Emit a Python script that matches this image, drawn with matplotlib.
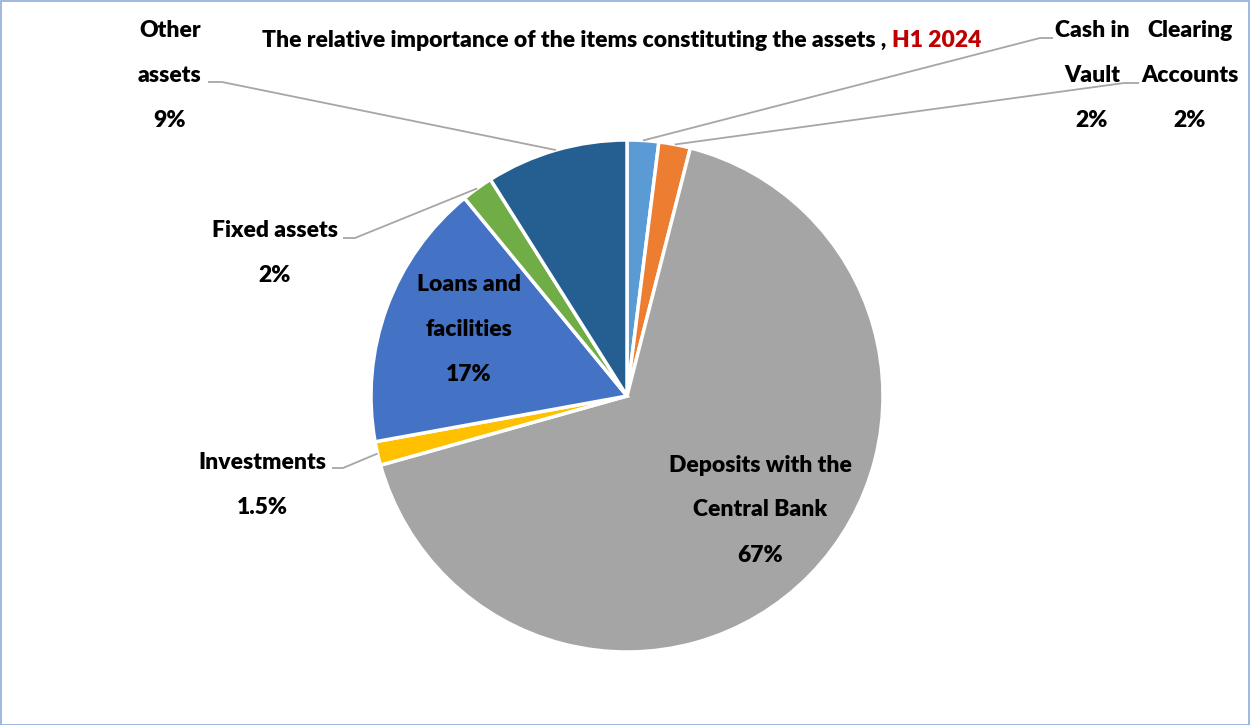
import matplotlib.pyplot as plt
import matplotlib.patches as patches
import numpy as np

# asset composition, H1 2024 (percent)
items = ['Cash in Vault', 'Clearing Accounts', 'Deposits with the Central Bank',
         'Investments', 'Loans and facilities', 'Fixed assets', 'Other assets']
shares = [2, 2, 67, 1.5, 17, 2, 9]
share_labels = ['2%', '2%', '67%', '1.5%', '17%', '2%', '9%']
colors = ['#5B9BD5', '#ED7D31', '#A5A5A5', '#FFC000', '#4472C4', '#70AD47', '#255E91']

W, H = 1250, 725
plt.rcParams['font.family'] = ['Lato', 'DejaVu Sans']

fig = plt.figure(figsize=(W / 100, H / 100), dpi=100)
ax = fig.add_axes([0, 0, 1, 1])

# work in pixel units, y measured from the top
def py(y):
    return H - y

cx, cy, R = 627, py(396), 256
wedges, _ = ax.pie(shares, colors=colors, startangle=90, counterclock=False,
                   center=(cx, cy), radius=R,
                   wedgeprops=dict(edgecolor='white', linewidth=2.5))
ax.set_xlim(0, W)
ax.set_ylim(0, H)
ax.set_aspect('equal')
ax.axis('off')

def edge_point(w):
    a = np.deg2rad((w.theta1 + w.theta2) / 2)
    return cx + R * np.cos(a), cy + R * np.sin(a)

def label(lines, x, y0, step=45, size=16.5):
    for k, s in enumerate(lines):
        ax.text(x, py(y0 + k * step), s, ha='center', va='center',
                fontsize=size, fontweight='heavy', color='black')

def leader(w, elbow, end):
    x0, y0 = edge_point(w)
    ax.plot([x0, elbow[0], end[0]], [y0, py(elbow[1]), py(end[1])],
            color='#A6A6A6', lw=1.3, solid_capstyle='butt')

# outside labels with leader lines
label(['Other', 'assets', share_labels[6]], 170, 30)
leader(wedges[6], (222, 82), (208, 82))

label(['Cash in', 'Vault', share_labels[0]], 1092, 30)
leader(wedges[0], (1040, 38), (1053, 38))

label(['Clearing', 'Accounts', share_labels[1]], 1190, 30)
leader(wedges[1], (1124, 83), (1139, 83))

label(['Fixed assets', share_labels[5]], 275, 230)
leader(wedges[5], (355, 238), (343, 238))

label(['Investments', share_labels[3]], 262, 462)
leader(wedges[3], (343, 468), (332, 468))

# labels inside the big slices
label(['Loans and', 'facilities', share_labels[4]], 469, 284)
label(['Deposits with the', 'Central Bank', share_labels[2]], 760, 465)

# title in two colours
t = ax.text(262, py(40), 'The relative importance of the items constituting the assets , ',
            ha='left', va='center', fontsize=16.5, fontweight='heavy', color='black')
ax.annotate('H1 2024', xy=(1, 0.5), xycoords=t, ha='left', va='center',
            fontsize=16.5, fontweight='heavy', color='#C00000')

# thin frame around the chart area
fig.patches.append(patches.Rectangle((0.5 / W, 0.5 / H), 1 - 1.5 / W, 1 - 1.5 / H,
                                     transform=fig.transFigure, fill=False,
                                     edgecolor='#8FAADC', linewidth=1.2))

fig.savefig('out.png', dpi=100)
